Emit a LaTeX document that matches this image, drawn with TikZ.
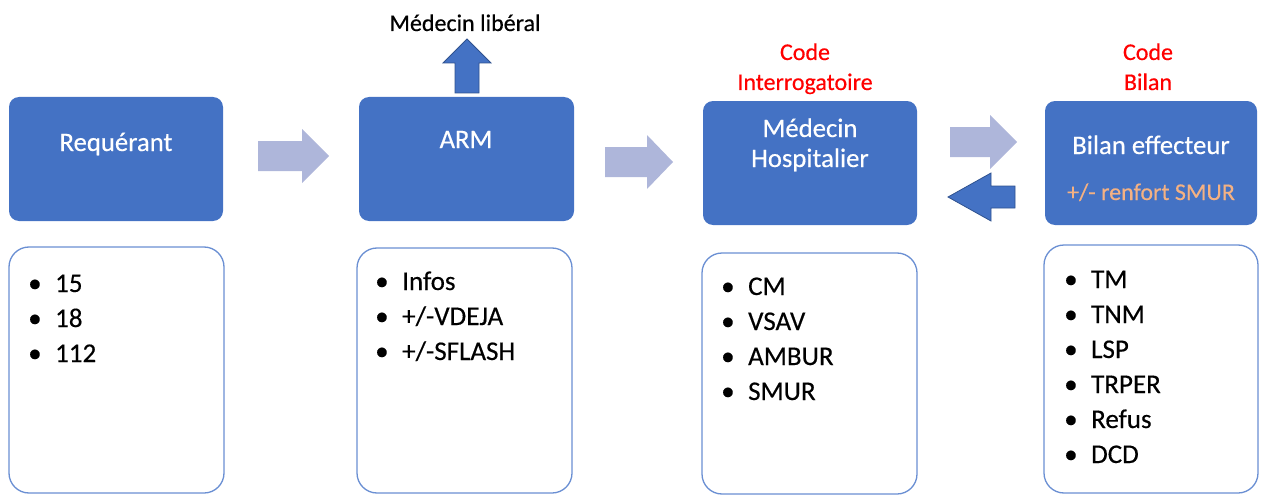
\documentclass[tikz,border=0pt]{standalone}
\usepackage{fontspec}
\setmainfont{Carlito}[FakeBold=0.4]
\definecolor{boxblue}{HTML}{4472C4}
\definecolor{darkblue}{HTML}{2F528F}
\definecolor{lightarrow}{HTML}{AEB6DA}
\definecolor{listline}{HTML}{6A8FD3}
\definecolor{orangetxt}{HTML}{F4B183}
\definecolor{redtxt}{HTML}{FF0000}
\tikzset{
  bluebox/.style={fill=boxblue, draw=none, rounded corners=10pt},
  listbox/.style={fill=white, draw=listline, line width=1.3pt, rounded corners=20pt},
  title/.style={text=white, font=\fontsize{26.7}{32}\selectfont, anchor=base, inner sep=0pt},
  redlbl/.style={text=redtxt, font=\fontsize{24}{29}\selectfont, anchor=base, inner sep=0pt},
  blacklbl/.style={text=black, font=\fontsize{24}{29}\selectfont, anchor=base, inner sep=0pt},
  orangelbl/.style={text=orangetxt, font=\fontsize{24}{29}\selectfont, anchor=base, inner sep=0pt},
  item/.style={text=black, font=\fontsize{27}{33}\selectfont, anchor=base west, inner sep=0pt},
  lightarr/.style={fill=lightarrow, draw=none},
  darkarr/.style={fill=boxblue, draw=darkblue, line width=0.8pt},
}
\newcommand{\bul}[1]{\makebox[21pt][l]{\hspace*{-6pt}•}#1}
\begin{document}
\begin{tikzpicture}[x=1pt,y=-1pt]
\useasboundingbox (0,0) rectangle (1267,495);

% blue boxes
\path[bluebox] (9,97) rectangle (223,221);
\node[title] (req) at (116,151) {Requérant};
\path[bluebox] (359,97) rectangle (574,221);
\node[title] (arm) at (466,148) {ARM};
\path[bluebox] (703,101) rectangle (917,225);
\node[title] (med1) at (810,137) {Médecin};
\node[title] (med2) at (810,167) {Hospitalier};
\path[bluebox] (1045,101) rectangle (1257,225);
\node[title] (bil) at (1151,154) {Bilan effecteur};
\node[orangelbl] (renf) at (1151,200) {+/- renfort SMUR};

% top labels
\node[blacklbl] (lib) at (465,31) {Médecin libéral};
\node[redlbl] (code1) at (805,60) {Code};
\node[redlbl] (interr) at (805,90) {Interrogatoire};
\node[redlbl] (code2) at (1148,60) {Code};
\node[redlbl] (bilan) at (1148,90) {Bilan};

% arrows
\path[lightarr] (258,141) -- (302,141) -- (302,129) -- (329,156) -- (302,183) -- (302,171) -- (258,171) -- cycle;
\path[lightarr] (605,147) -- (647,147) -- (647,135) -- (673,162) -- (647,189) -- (647,177) -- (605,177) -- cycle;
\path[lightarr] (950,127) -- (990,127) -- (990,115) -- (1017,142) -- (990,169) -- (990,157) -- (950,157) -- cycle;
\path[darkarr] (1015,186) -- (991,186) -- (991,173) -- (948,197) -- (991,221) -- (991,208) -- (1015,208) -- cycle;
\path[darkarr] (455,93) -- (455,63) -- (443,63) -- (467,39) -- (491,63) -- (479,63) -- (479,93) -- cycle;

% list boxes
\path[listbox] (9,247) rectangle (224,493);
\node[item] (l11) at (34,292) {\bul{15}};
\node[item] (l12) at (34,327) {\bul{18}};
\node[item] (l13) at (34,362) {\bul{112}};

\path[listbox] (357,248) rectangle (572,493);
\node[item] (l21) at (381,290) {\bul{Infos}};
\node[item] (l22) at (381,325) {\bul{+/-VDEJA}};
\node[item] (l23) at (381,360) {\bul{+/-SFLASH}};

\path[listbox] (702,253) rectangle (917,494);
\node[item] (l31) at (727,295) {\bul{CM}};
\node[item] (l32) at (727,330) {\bul{VSAV}};
\node[item] (l33) at (727,365) {\bul{AMBUR}};
\node[item] (l34) at (727,400) {\bul{SMUR}};

\path[listbox] (1044,245) rectangle (1258,493);
\node[item] (l41) at (1070,288) {\bul{TM}};
\node[item] (l42) at (1070,323) {\bul{TNM}};
\node[item] (l43) at (1070,358) {\bul{LSP}};
\node[item] (l44) at (1070,393) {\bul{TRPER}};
\node[item] (l45) at (1070,428) {\bul{Refus}};
\node[item] (l46) at (1070,463) {\bul{DCD}};
\end{tikzpicture}
\end{document}
